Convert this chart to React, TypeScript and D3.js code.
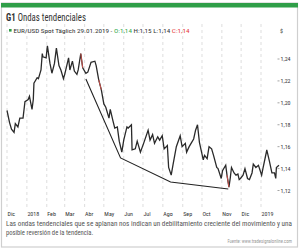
import React from "react";
import * as d3 from "d3";

const priceDates = [
  "2017-12-01","2017-12-05","2017-12-08","2017-12-12","2017-12-14","2017-12-18","2017-12-21","2017-12-26","2017-12-29",
  "2018-01-03","2018-01-05","2018-01-09","2018-01-11","2018-01-12","2018-01-17","2018-01-19","2018-01-23","2018-01-25","2018-01-26","2018-01-31",
  "2018-02-02","2018-02-06","2018-02-09","2018-02-13","2018-02-16","2018-02-20","2018-02-23","2018-02-27",
  "2018-03-01","2018-03-07","2018-03-09","2018-03-13","2018-03-16","2018-03-20","2018-03-22","2018-03-26","2018-03-29",
  "2018-04-03","2018-04-06","2018-04-11","2018-04-17","2018-04-19","2018-04-23","2018-04-27",
  "2018-05-01","2018-05-04","2018-05-09","2018-05-11","2018-05-15","2018-05-18","2018-05-22","2018-05-25","2018-05-29",
  "2018-06-01","2018-06-06","2018-06-08","2018-06-13","2018-06-14","2018-06-19","2018-06-22","2018-06-27",
  "2018-07-02","2018-07-09","2018-07-12","2018-07-16","2018-07-19","2018-07-24","2018-07-27","2018-07-31",
  "2018-08-03","2018-08-08","2018-08-10","2018-08-14","2018-08-17","2018-08-22","2018-08-28","2018-08-31",
  "2018-09-05","2018-09-07","2018-09-11","2018-09-14","2018-09-18","2018-09-21","2018-09-24","2018-09-27",
  "2018-10-03","2018-10-05","2018-10-09","2018-10-12","2018-10-16","2018-10-19","2018-10-24","2018-10-26","2018-10-31",
  "2018-11-02","2018-11-07","2018-11-09","2018-11-12","2018-11-14","2018-11-16","2018-11-20","2018-11-23","2018-11-26","2018-11-28","2018-11-30",
  "2018-12-04","2018-12-07","2018-12-11","2018-12-14","2018-12-18","2018-12-20","2018-12-24","2018-12-28",
  "2019-01-02","2019-01-04","2019-01-09","2019-01-10","2019-01-14","2019-01-18","2019-01-22","2019-01-24","2019-01-25","2019-01-29",
];
const priceValues = [
  1.193,1.182,1.176,1.173,1.181,1.178,1.186,1.186,1.201,
  1.203,1.206,1.194,1.203,1.218,1.223,1.222,1.230,1.245,1.242,1.241,
  1.252,1.236,1.227,1.236,1.250,1.234,1.230,1.222,
  1.226,1.241,1.230,1.238,1.229,1.226,1.230,1.245,1.232,
  1.227,1.228,1.237,1.238,1.234,1.221,1.212,
  1.199,1.196,1.186,1.194,1.184,1.177,1.178,1.165,1.155,
  1.166,1.178,1.177,1.180,1.157,1.158,1.165,1.155,
  1.163,1.175,1.166,1.171,1.163,1.169,1.166,1.170,
  1.158,1.161,1.141,1.134,1.144,1.160,1.170,1.160,
  1.163,1.155,1.160,1.163,1.167,1.175,1.180,1.164,
  1.148,1.152,1.149,1.160,1.158,1.152,1.141,1.140,1.131,
  1.138,1.143,1.134,1.123,1.131,1.141,1.136,1.134,1.135,1.130,1.131,
  1.134,1.140,1.131,1.130,1.136,1.144,1.141,1.143,
  1.134,1.140,1.154,1.157,1.147,1.136,1.136,1.131,1.141,1.143,
];
const redSegments = [
  ["2018-03-26", "2018-03-29"],
  ["2018-04-23", "2018-04-27"],
  ["2018-11-09", "2018-11-12"],
];
const trendDates = ["2018-04-03", "2018-05-27", "2018-08-13", "2018-11-11"];
const trendValues = [1.2217, 1.1497, 1.1278, 1.1214];
const yTicks = [1.12, 1.14, 1.16, 1.18, 1.2, 1.22, 1.24];
const monthLabels = ["Dic", "2018", "Feb", "Mar", "Abr", "May", "Jun", "Jul", "Ago", "Sep", "Oct", "Nov", "Dic", "2019"];

const title = "Ondas tendenciales";
const legendSeries = "EUR/USD Spot Täglich  29.01.2019 - ";
const caption1 = "Las ondas tendenciales que se aplanan nos indican un debilitamiento creciente del movimiento y una";
const caption2 = "posible reversión de la tendencia.";
const source = "Fuente: www.tradesignalonline.com";

const parse = d3.timeParse("%Y-%m-%d");
const FONT = "'Liberation Sans Narrow', 'Roboto Condensed', Roboto, sans-serif";

export default function App() {
  const x = d3.scaleTime().domain([parse("2017-12-01")!, parse("2019-01-01")!]).range([7, 261]);
  const y = d3.scaleLinear().domain([1.12, 1.24]).range([190.5, 59]);
  const pts = priceDates.map((d, i) => ({ d: parse(d)!, v: priceValues[i] }));
  const line = d3.line<{ d: Date; v: number }>().x((p) => x(p.d)).y((p) => y(p.v));
  const months = d3.timeMonth.range(parse("2017-12-01")!, parse("2019-01-02")!);
  const trend = trendDates.map((d, i) => ({ d: parse(d)!, v: trendValues[i] }));
  const fmt = (v: number) => v.toFixed(2).replace(".", ",");

  return (
    <svg width={300} height={250} style={{ position: "absolute", left: 0, top: 0, background: "#fff" }}>
      <rect x={1.5} y={3} width={296} height={244} fill="#fff" stroke="#cfcfcf" strokeWidth={1.2} />
      <rect x={1} y={3} width={297} height={4.5} fill="#2f9e48" />
      <text x={6} y={20.5} fontFamily={FONT} fontSize={11} fill="#333" textLength={80} lengthAdjust="spacingAndGlyphs">
        <tspan fontWeight="bold">G1</tspan>
        <tspan> {title}</tspan>
      </text>
      {months.map((m, i) => (
        <line key={i} x1={x(m)} x2={x(m)} y1={24} y2={207} stroke="#cfcfcf" strokeWidth={0.7} strokeDasharray="3,3" />
      ))}
      <rect x={9} y={29} width={2.6} height={2.6} fill="#2f9e48" />
      <text x={13.5} y={32.5} fontFamily={FONT} fontSize={6} fill="#333" textLength={176} lengthAdjust="spacingAndGlyphs">
        {legendSeries}
        <tspan fill="#2fa84a">O:1,14 </tspan>
        <tspan>H:1,15 L:1,14 </tspan>
        <tspan fill="#e53935">C:1,14</tspan>
      </text>
      <text x={280} y={33} fontFamily={FONT} fontSize={6} fill="#333">$</text>
      <path d={line(pts) || ""} fill="none" stroke="#2a2a2a" strokeWidth={1.3} strokeLinejoin="miter" />
      {redSegments.map(([a, b], i) => {
        const seg = pts.filter((p) => p.d >= parse(a)! && p.d <= parse(b)!);
        return <path key={i} d={line(seg) || ""} fill="none" stroke="#c8504a" strokeWidth={1} />;
      })}
      <path d={line(trend) || ""} fill="none" stroke="#222" strokeWidth={1.1} />
      {yTicks.map((t, i) => (
        <g key={i}>
          <line x1={277.5} x2={279.5} y1={y(t)} y2={y(t)} stroke="#666" strokeWidth={0.6} />
          <text x={280.5} y={y(t) + 2} fontFamily={FONT} fontSize={6} fill="#333">{fmt(t)}</text>
        </g>
      ))}
      {months.map((m, i) => (
        <text key={i} x={x(m) + 0.5} y={215.5} fontFamily={FONT} fontSize={6} fill="#333">{monthLabels[i]}</text>
      ))}
      <text x={6} y={226} fontFamily={FONT} fontSize={6.6} fill="#555" textLength={286} lengthAdjust="spacingAndGlyphs">{caption1}</text>
      <text x={6} y={234.5} fontFamily={FONT} fontSize={6.6} fill="#555">{caption2}</text>
      <text x={292} y={243} textAnchor="end" fontFamily={FONT} fontSize={4.6} fill="#999">{source}</text>
    </svg>
  );
}
